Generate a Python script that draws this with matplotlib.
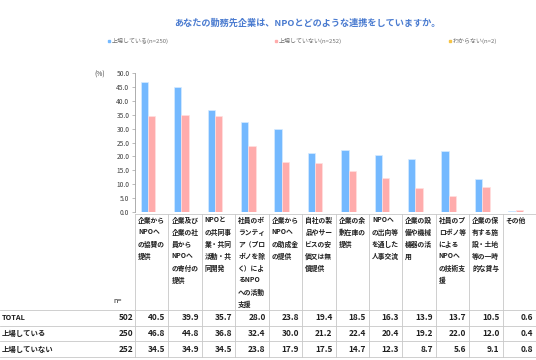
import matplotlib.pyplot as plt
import numpy as np

plt.rcParams['font.family'] = ['Noto Sans CJK JP', 'DejaVu Sans']

# ------------------------------
# DATA
# ------------------------------
title = "あなたの勤務先企業は、NPOとどのような連携をしていますか。"
series_names = ["上場している(n=250)", "上場していない(n=252)", "わからない(n=2)"]
series_colors = ["#74B9FF", "#FFACAC", "#F6C445"]

categories = [
    "企業から\nNPOへ\nの協賛の\n提供",
    "企業及び\n企業の社\n員から\nNPOへ\nの寄付の\n提供",
    "NPOと\nの共同事\n業・共同\n活動・共\n同開発",
    "社員のボ\nランティ\nア（プロ\nボノを除\nく）によ\nるNPO\nへの活動\n支援",
    "企業から\nNPOへ\nの助成金\nの提供",
    "自社の製\n品やサー\nビスの安\n価又は無\n償提供",
    "企業の余\n剰在庫の\n提供",
    "NPOへ\nの出向等\nを通した\n人事交流",
    "企業の設\n備や機械\n機器の活\n用",
    "社員のプ\nロボノ等\nによる\nNPOへ\nの技術支\n援",
    "企業の保\n有する施\n設・土地\n等の一時\n的な貸与",
    "その他",
]

row_names = ["TOTAL", "上場している", "上場していない"]
row_n = [502, 250, 252]
total = [40.5, 39.9, 35.7, 28.0, 23.8, 19.4, 18.5, 16.3, 13.9, 13.7, 10.5, 0.6]
listed = [46.8, 44.8, 36.8, 32.4, 30.0, 21.2, 22.4, 20.4, 19.2, 22.0, 12.0, 0.4]
unlisted = [34.5, 34.9, 34.5, 23.8, 17.9, 17.5, 14.7, 12.3, 8.7, 5.6, 9.1, 0.8]
rows = [total, listed, unlisted]

# ------------------------------
# LAYOUT (pixels)
# ------------------------------
W, H = 536, 360
left = 135
colw = (W - left) / len(categories)
y_zero, y_top = 212, 73
grid_c = "#C8C8C8"

fig = plt.figure(figsize=(W / 100, H / 100), dpi=100)

# overlay axes in pixel coordinates for title / legend / table
tab = fig.add_axes([0, 0, 1, 1])
tab.set_xlim(0, W)
tab.set_ylim(H, 0)
tab.axis('off')
tab.patch.set_visible(False)

ax = fig.add_axes([left / W, (H - y_zero) / H, (W - left) / W, (y_zero - y_top) / H])
x = np.arange(len(categories))
bw = 0.22
ax.bar(x - bw, listed, bw, color=series_colors[0], edgecolor="#D6EBFF", linewidth=0.5)
ax.bar(x, unlisted, bw, color=series_colors[1], edgecolor="#FFE0E0", linewidth=0.5)
ax.set_xlim(-0.5, len(categories) - 0.5)
ax.set_ylim(0, 50)
ax.set_yticks(np.arange(0, 50.1, 5))
ax.set_yticklabels([f"{v:.1f}" for v in np.arange(0, 50.1, 5)])
ax.tick_params(axis='y', labelsize=4.8, length=2, width=0.5, color="#A0A0A0", pad=2,
               labelcolor="#404040")
ax.set_xticks([])
for s in ['top', 'right', 'bottom']:
    ax.spines[s].set_visible(False)
ax.spines['left'].set_color("#A0A0A0")
ax.spines['left'].set_linewidth(0.6)
ax.patch.set_visible(False)

tab.text(100, 75, "(%)", fontsize=4.8, color="#404040", ha='center', va='center')

# title
tab.text(307, 23, title, fontsize=6.6, fontweight='bold', color="#4A7BD0",
         ha='center', va='center')

# legend
for lx, name, c in zip([109, 276, 450], series_names, series_colors):
    tab.plot(lx, 41, marker='s', markersize=1.8, color=c, linestyle='none')
    tab.text(lx + 3, 41, name, fontsize=4.3, color="#707070", ha='left', va='center')

# table lines
tab.plot([left, W], [214, 214], color=grid_c, lw=0.6)
for k in range(len(categories) + 1):
    xx = left + k * colw
    tab.plot([xx, xx], [214, 357], color=grid_c, lw=0.6)
for yy in [310, 325.5, 341, 357]:
    tab.plot([0, W], [yy, yy], color=grid_c, lw=0.6)

# category headers
for i, cat in enumerate(categories):
    for j, line in enumerate(cat.split("\n")):
        tab.text(left + i * colw + 3, 220 + j * 12, line, fontsize=4.9,
                 fontweight='bold', color="#202020", ha='left', va='center')

tab.text(113, 301, "n=", fontsize=5.2, color="#202020", ha='left', va='center')

# table body
row_y = [317.5, 333.5, 349.5]
for ry, name, n, vals in zip(row_y, row_names, row_n, rows):
    tab.text(2, ry, name, fontsize=5.3, fontweight='bold', color="#202020",
             ha='left', va='center')
    tab.text(left - 2, ry, str(n), fontsize=6, fontweight='bold', color="#202020",
             ha='right', va='center')
    for i, v in enumerate(vals):
        tab.text(left + (i + 1) * colw - 3, ry, f"{v:.1f}", fontsize=6,
                 fontweight='bold', color="#202020", ha='right', va='center')

plt.savefig("out.png", dpi=100)
plt.close()
